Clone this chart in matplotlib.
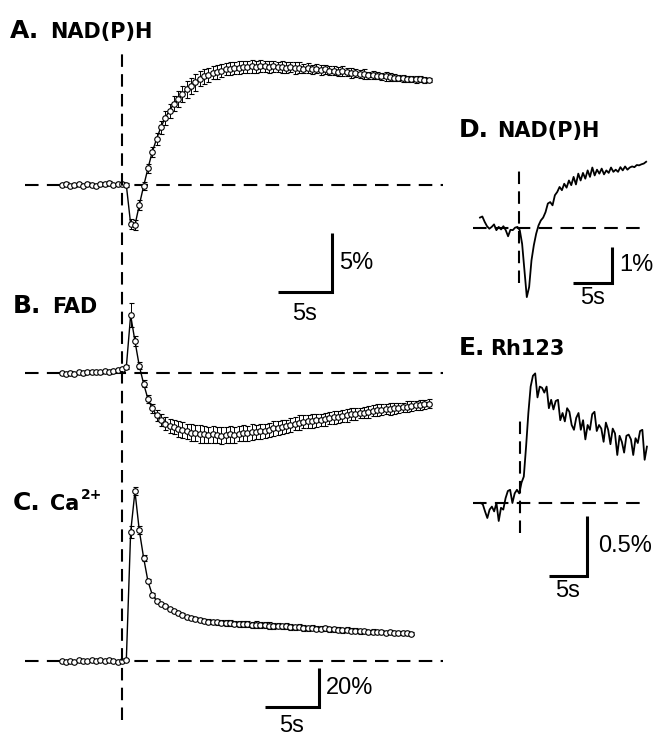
import numpy as np
import matplotlib
matplotlib.use("Agg")
import matplotlib.pyplot as plt

plt.rcParams['font.family'] = ['Liberation Sans', 'DejaVu Sans']

# ---- data (percent change vs time in s, stimulus at t = 0) ----
# left column: sampled every 0.4 s starting at -5.6 s
T0_ABC = -5.6
DT_ABC = 0.4

nadh_mean = [0.0, 0.1, -0.1, 0.0, 0.05, -0.1, 0.1, 0.0, -0.05, 0.1, 0.05, 0.15, 0.0, 0.1,
             0.1, 0.0, -3.3, -3.4, -1.7, -0.1, 1.4, 2.8, 3.9, 4.9,
             5.7, 6.3, 6.9, 7.3, 7.7, 8.1, 8.4, 8.7, 9.0, 9.2,
             9.35, 9.5, 9.6, 9.7, 9.8, 9.85, 9.9, 9.95, 10.0, 10.0,
             10.05, 10.0, 10.1, 10.05, 10.0, 10.05, 10.0, 10.0, 9.95, 10.0,
             9.9, 9.95, 9.85, 9.9, 9.8, 9.85, 9.75, 9.8, 9.7, 9.7,
             9.6, 9.65, 9.55, 9.5, 9.5, 9.4, 9.4, 9.3, 9.3, 9.25,
             9.2, 9.2, 9.15, 9.1, 9.1, 9.05, 9.0, 9.0, 8.95, 8.95,
             8.9, 8.9]
nadh_sem = [0.1, 0.15, 0.1, 0.15, 0.1, 0.1, 0.15, 0.1, 0.15, 0.1, 0.1, 0.15, 0.1, 0.15,
            0.15, 0.2, 0.4, 0.45, 0.4, 0.35, 0.4, 0.45, 0.5, 0.55,
            0.6, 0.6, 0.65, 0.7, 0.7, 0.7, 0.65, 0.7, 0.65, 0.6,
            0.6, 0.55, 0.6, 0.55, 0.5, 0.55, 0.5, 0.55, 0.5, 0.5,
            0.55, 0.5, 0.5, 0.45, 0.5, 0.5, 0.45, 0.5, 0.45, 0.45,
            0.5, 0.45, 0.4, 0.45, 0.4, 0.4, 0.45, 0.4, 0.4, 0.35,
            0.4, 0.4, 0.35, 0.4, 0.35, 0.35, 0.4, 0.3, 0.35, 0.3,
            0.3, 0.35, 0.3, 0.3, 0.25, 0.3, 0.25, 0.25, 0.3, 0.25,
            0.25, 0.2]

fad_mean = [0.0, -0.1, 0.0, -0.1, 0.05, 0.0, 0.1, 0.05, 0.1, 0.05, 0.15, 0.1, 0.2, 0.25,
            0.3, 0.5, 4.9, 2.7, 0.6, -0.9, -2.2, -3.0, -3.6, -4.0,
            -4.3, -4.5, -4.6, -4.75, -4.85, -4.95, -5.05, -5.1, -5.15, -5.2,
            -5.25, -5.2, -5.25, -5.3, -5.25, -5.2, -5.25, -5.15, -5.1, -5.1,
            -5.0, -5.0, -4.95, -4.9, -4.85, -4.7, -4.65, -4.55, -4.5, -4.4,
            -4.3, -4.2, -4.15, -4.1, -4.05, -4.0, -3.95, -3.9, -3.8, -3.75,
            -3.7, -3.65, -3.6, -3.5, -3.45, -3.4, -3.35, -3.3, -3.2, -3.15,
            -3.1, -3.05, -3.05, -3.0, -2.95, -2.9, -2.85, -2.8, -2.75, -2.7,
            -2.65, -2.6]
fad_sem = [0.1, 0.1, 0.15, 0.1, 0.1, 0.15, 0.1, 0.1, 0.15, 0.1, 0.1, 0.15, 0.1, 0.15,
           0.15, 0.2, 1.0, 0.4, 0.3, 0.3, 0.35, 0.4, 0.45, 0.5,
           0.55, 0.6, 0.6, 0.65, 0.7, 0.65, 0.7, 0.7, 0.75, 0.7,
           0.7, 0.75, 0.7, 0.7, 0.65, 0.7, 0.7, 0.65, 0.7, 0.65,
           0.65, 0.6, 0.65, 0.6, 0.6, 0.65, 0.6, 0.6, 0.55, 0.6,
           0.55, 0.6, 0.55, 0.55, 0.6, 0.55, 0.5, 0.55, 0.5, 0.55,
           0.5, 0.5, 0.55, 0.5, 0.5, 0.45, 0.5, 0.5, 0.45, 0.5,
           0.45, 0.45, 0.5, 0.45, 0.45, 0.4, 0.45, 0.45, 0.4, 0.45,
           0.4, 0.4]

ca_mean = [0.2, -0.3, 0.0, -0.5, 0.3, -0.2, 0.1, 0.4, 0.0, 0.3, -0.1, 0.5, 0.2, -0.3,
           -0.2, 0.5, 66, 87, 67, 53, 41, 34, 31, 29,
           28, 26.5, 25.5, 24.5, 23.5, 22.5, 22, 21.5, 21, 20.5,
           20.2, 20.0, 19.8, 19.6, 19.5, 19.3, 19.2, 19.0, 18.9, 18.8,
           18.6, 18.7, 18.4, 18.5, 18.2, 18.0, 18.2, 17.7, 17.9, 17.4,
           17.3, 17.5, 17.0, 16.9, 17.1, 16.6, 16.5, 16.7, 16.2, 16.3,
           16.0, 15.8, 16.0, 15.5, 15.6, 15.2, 15.4, 15.0, 15.1, 14.8,
           14.9, 14.6, 14.7, 14.4, 14.5, 14.3, 14.4, 14.1]
ca_sem = [0.5, 0.4, 0.5, 0.5, 0.4, 0.5, 0.4, 0.5, 0.5, 0.4, 0.5, 0.4, 0.5, 0.5,
          0.3, 0.5, 3.0, 2.0, 2.0, 1.5, 1.2, 1.0, 1.0, 1.0,
          0.9, 0.9, 0.8, 0.8, 0.9, 0.8, 0.9, 1.0, 1.0, 1.1,
          1.1, 1.2, 1.2, 1.3, 1.4, 1.5, 1.5, 1.6, 1.5, 1.6,
          1.5, 1.6, 1.5, 1.5, 1.6, 1.5, 1.4, 1.5, 1.4, 1.5,
          1.4, 1.3, 1.4, 1.3, 1.4, 1.3, 1.3, 1.4, 1.3, 1.2,
          1.3, 1.2, 1.3, 1.2, 1.2, 1.1, 1.2, 1.1, 1.1, 1.0,
          1.1, 1.0, 1.0, 1.0, 0.9, 1.0, 0.9, 0.9]

# right column: single traces
T0_D = -5.0
DT_D = 0.3
nadh_trace = [0.29, 0.32, 0.17, 0.05, -0.02, 0.03, 0.10, -0.06, 0.03, -0.04,
              0.05, -0.06, -0.23, -0.05, -0.06, 0.01, 0.03, -0.06, -0.44, -1.18,
              -1.92, -1.64, -0.90, -0.48, -0.16, 0.07, 0.21, 0.29, 0.44, 0.68,
              0.72, 0.63, 0.91, 1.00, 1.14, 1.05, 1.23, 1.12, 1.32, 1.19,
              1.42, 1.21, 1.51, 1.32, 1.53, 1.37, 1.60, 1.42, 1.68, 1.46,
              1.62, 1.51, 1.65, 1.49, 1.60, 1.53, 1.68, 1.56, 1.62, 1.56,
              1.69, 1.60, 1.71, 1.62, 1.68, 1.71, 1.69, 1.75, 1.74, 1.77,
              1.79, 1.84]

T0_E = -5.2
DT_E = 0.3
rh123_trace = [0.0, -0.01, -0.07, -0.125, -0.055, -0.03, -0.07, 0.0, -0.15, -0.04,
               -0.055, 0.04, 0.10, 0.11, 0.0, 0.08, 0.11, 0.08, 0.17, 0.22,
               0.47, 0.75, 0.97, 1.06, 1.08, 0.88, 0.97, 0.96, 0.92, 0.97,
               0.79, 0.86, 0.78, 0.85, 0.86, 0.69, 0.75, 0.68, 0.79, 0.76,
               0.65, 0.61, 0.71, 0.75, 0.61, 0.69, 0.53, 0.65, 0.61, 0.74,
               0.76, 0.60, 0.65, 0.62, 0.51, 0.67, 0.61, 0.49, 0.62, 0.58,
               0.40, 0.56, 0.51, 0.42, 0.56, 0.57, 0.53, 0.40, 0.54, 0.50,
               0.60, 0.61, 0.36, 0.47]

# ---- layout (pixels of the 659x736 canvas) ----
W, H = 659, 736
fig = plt.figure(figsize=(W / 100, H / 100), dpi=100)

DASH = dict(color='black', lw=1.5, dashes=(6.5, 4))
VDASH = dict(color='black', lw=1.5, dashes=(6, 3.5))
LABEL_SIZE = 17


def panel(box, x_stim, px_per_s, y_base, px_per_pct):
    L, T, R, B = box
    ax = fig.add_axes([L / W, 1 - B / H, (R - L) / W, (B - T) / H])
    ax.set_xlim((L - x_stim) / px_per_s, (R - x_stim) / px_per_s)
    ax.set_ylim((y_base - B) / px_per_pct, (y_base - T) / px_per_pct)
    ax.axis('off')
    return ax


def scalebar(ax, t0, y0, dt, dy, ylab, xlab, lab_dx, lab_dy):
    ax.plot([t0, t0 + dt, t0 + dt], [y0, y0, y0 + dy], color='black', lw=2.2,
            solid_joinstyle='miter', solid_capstyle='butt', clip_on=False)
    ax.text(t0 + dt + lab_dx, y0 + dy / 2, ylab, fontsize=LABEL_SIZE,
            ha='left', va='center', clip_on=False)
    ax.text(t0 + dt / 2, y0 - lab_dy, xlab, fontsize=LABEL_SIZE,
            ha='center', va='top', clip_on=False)


def mean_trace(ax, mean, sem):
    t = T0_ABC + DT_ABC * np.arange(len(mean))
    ax.errorbar(t, mean, yerr=sem, fmt='-o', color='black', lw=1.0,
                ms=4.0, mfc='white', mec='black', mew=0.8,
                elinewidth=0.7, capsize=1.8, capthick=0.7)


PPS = 10.8      # px per second, left column
X_STIM = 122

# A. NAD(P)H
axA = panel((0, 40, 460, 250), X_STIM, PPS, 185, 11.8)
axA.plot([-9.0, 29.7], [0, 0], **DASH)
mean_trace(axA, nadh_mean, nadh_sem)
scalebar(axA, 14.44, -9.07, 5, 5, '5%', '5s', 0.7, 0.9)

# B. FAD
axB = panel((0, 250, 460, 460), X_STIM, PPS, 373, 11.8)
axB.plot([-9.0, 29.7], [0, 0], **DASH)
mean_trace(axB, fad_mean, fad_sem)

# C. Ca2+
axC = panel((0, 460, 460, 736), X_STIM, PPS, 661, 1.95)
axC.plot([-9.0, 29.7], [0, 0], **DASH)
mean_trace(axC, ca_mean, ca_sem)
scalebar(axC, 13.24, -23.6, 5, 20, '20%', '5s', 0.6, 4)

# shared stimulus line through A-C
axS = panel((0, 0, 460, 736), X_STIM, PPS, 736, 1.0)
axS.plot([0, 0], [16, 686], **VDASH)

# D. NAD(P)H single trace
axD = panel((460, 140, 659, 330), 519, 7.8, 228, 36)
axD.plot([-5.9, 16.4], [0, 0], **DASH)
axD.plot([0, 0], [-1.53, 1.75], **VDASH)
tD = T0_D + DT_D * np.arange(len(nadh_trace))
axD.plot(tD, nadh_trace, color='black', lw=1.3)
scalebar(axD, 6.92, -1.53, 5, 1, '1%', '5s', 0.9, 0.1)

# E. Rh123 single trace
axE = panel((460, 360, 659, 640), 520, 7.6, 503, 120)
axE.plot([-6.2, 16.6], [0, 0], **DASH)
axE.plot([0, 0], [-0.25, 0.73], **VDASH)
tE = T0_E + DT_E * np.arange(len(rh123_trace))
axE.plot(tE, rh123_trace, color='black', lw=1.3)
scalebar(axE, 3.82, -0.608, 5, 0.5, '0.5%', '5s', 1.5, 0.03)


# ---- panel titles ----
def title(x, y, big, small, dx, small_size=15):
    fig.text(x / W, 1 - y / H, big, fontsize=18, fontweight='bold',
             family='DejaVu Sans', va='baseline')
    fig.text((x + dx) / W, 1 - y / H, small, fontsize=small_size, fontweight='bold',
             family='DejaVu Sans', va='baseline')


title(10, 38, 'A.', 'NAD(P)H', 40)
title(13, 313, 'B.', 'FAD', 39)
title(13, 510, 'C.', 'Ca', 37)
fig.text(81 / W, 1 - 499 / H, '2+', fontsize=10, fontweight='bold',
         family='DejaVu Sans', va='baseline')
title(459, 137, 'D.', 'NAD(P)H', 38)
title(459, 355, 'E.', 'Rh123', 31)

fig.savefig('out.png', dpi=100)
